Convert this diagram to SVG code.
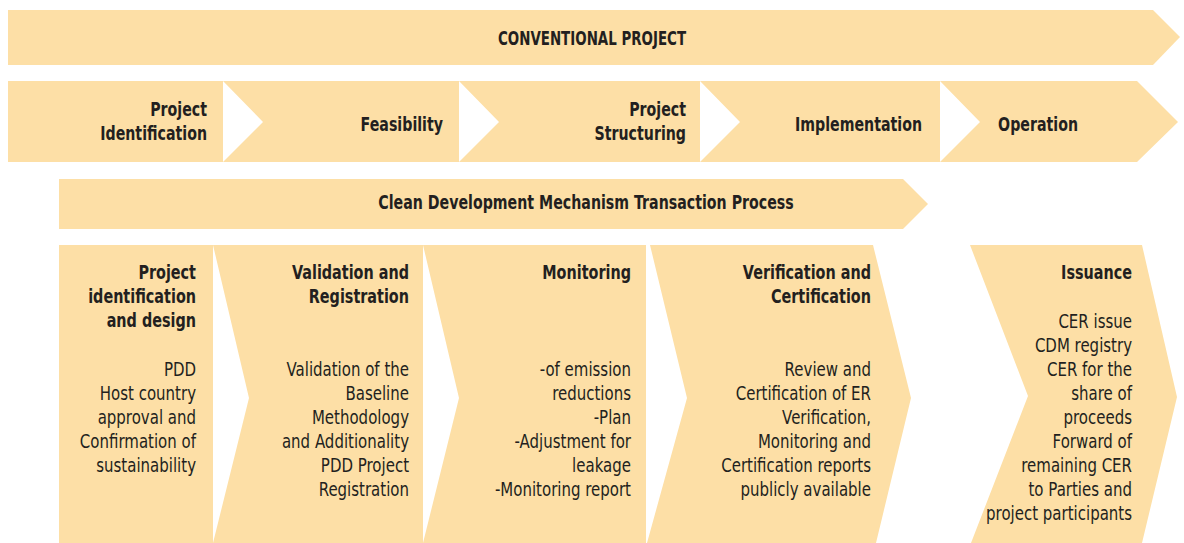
<svg xmlns="http://www.w3.org/2000/svg" width="1184" height="543" viewBox="0 0 1184 543">
<style>
.f{fill:#FDDFA6;}
text{font-family:"DejaVu Sans","Liberation Sans",sans-serif;fill:#231F20;font-size:20px;}
.b{font-weight:bold;}
.r{text-anchor:end;}
.c{text-anchor:middle;}
</style>
<rect width="1184" height="543" fill="#FFFFFF"/>
<g id="conventional-project">
<polygon class="f" points="8,10 1153,10 1180,37 1153,65 8,65"/>
<g transform="translate(592,0) scale(0.67,1)"><text class="b c" x="0" y="45">CONVENTIONAL PROJECT</text></g>
</g>
<g id="project-identification">
<rect class="f" x="8" y="81" width="215" height="81"/>
<g transform="translate(207,0) scale(0.71,1)">
<text class="b r" x="0" y="116">Project</text>
<text class="b r" x="0" y="140">Identification</text>
</g>
</g>
<g id="feasibility">
<polygon class="f" points="223,81 459,81 459,162 223,162 263,122"/>
<g transform="translate(443,0) scale(0.71,1)"><text class="b r" x="0" y="131">Feasibility</text></g>
</g>
<g id="project-structuring">
<polygon class="f" points="459,81 700,81 700,162 459,162 499,122"/>
<g transform="translate(686,0) scale(0.71,1)">
<text class="b r" x="0" y="116">Project</text>
<text class="b r" x="0" y="140">Structuring</text>
</g>
</g>
<g id="implementation">
<polygon class="f" points="700,81 940,81 940,162 700,162 740,122"/>
<g transform="translate(922,0) scale(0.71,1)"><text class="b r" x="0" y="131">Implementation</text></g>
</g>
<g id="operation">
<polygon class="f" points="940,81 1137,81 1178,122 1137,162 940,162 980,122"/>
<g transform="translate(1078,0) scale(0.71,1)"><text class="b r" x="0" y="131">Operation</text></g>
</g>
<g id="cdm-process">
<polygon class="f" points="59,179 903,179 928,204 903,229 59,229"/>
<g transform="translate(586,0) scale(0.71,1)"><text class="b c" x="0" y="209">Clean Development Mechanism Transaction Process</text></g>
</g>
<g id="identification-design">
<rect class="f" x="59" y="245" width="154" height="298"/>
<g transform="translate(196,0) scale(0.72,1)">
<text class="b r" x="0" y="279">Project</text>
<text class="b r" x="0" y="303">identification</text>
<text class="b r" x="0" y="327">and design</text>
</g>
<g transform="translate(196,0) scale(0.75,1)">
<text class="r" x="0" y="376">PDD</text>
<text class="r" x="0" y="400">Host country</text>
<text class="r" x="0" y="424">approval and</text>
<text class="r" x="0" y="448">Confirmation of</text>
<text class="r" x="0" y="472">sustainability</text>
</g>
</g>
<g id="validation-registration">
<polygon class="f" points="213,245 423,245 423,543 213,543 249,398"/>
<g transform="translate(409,0) scale(0.72,1)">
<text class="b r" x="0" y="279">Validation and</text>
<text class="b r" x="0" y="303">Registration</text>
</g>
<g transform="translate(409,0) scale(0.75,1)">
<text class="r" x="0" y="376">Validation of the</text>
<text class="r" x="0" y="400">Baseline</text>
<text class="r" x="0" y="424">Methodology</text>
<text class="r" x="0" y="448">and Additionality</text>
<text class="r" x="0" y="472">PDD Project</text>
<text class="r" x="0" y="496">Registration</text>
</g>
</g>
<g id="monitoring">
<polygon class="f" points="423,245 646,245 646,543 423,543 459,398"/>
<g transform="translate(631,0) scale(0.72,1)">
<text class="b r" x="0" y="279">Monitoring</text>
</g>
<g transform="translate(631,0) scale(0.75,1)">
<text class="r" x="0" y="376">-of emission</text>
<text class="r" x="0" y="400">reductions</text>
<text class="r" x="0" y="424">-Plan</text>
<text class="r" x="0" y="448">-Adjustment for</text>
<text class="r" x="0" y="472">leakage</text>
<text class="r" x="0" y="496">-Monitoring report</text>
</g>
</g>
<g id="verification-certification">
<polygon class="f" points="650,245 873,245 911,398 876,543 647,543 687,398"/>
<g transform="translate(871,0) scale(0.72,1)">
<text class="b r" x="0" y="279">Verification and</text>
<text class="b r" x="0" y="303">Certification</text>
</g>
<g transform="translate(871,0) scale(0.75,1)">
<text class="r" x="0" y="376">Review and</text>
<text class="r" x="0" y="400">Certification of ER</text>
<text class="r" x="0" y="424">Verification,</text>
<text class="r" x="0" y="448">Monitoring and</text>
<text class="r" x="0" y="472">Certification reports</text>
<text class="r" x="0" y="496">publicly available</text>
</g>
</g>
<g id="issuance">
<polygon class="f" points="970,245 1142,245 1177,397 1142,543 971,543 1028,396"/>
<g transform="translate(1132,0) scale(0.72,1)">
<text class="b r" x="0" y="279">Issuance</text>
</g>
<g transform="translate(1132,0) scale(0.75,1)">
<text class="r" x="0" y="328">CER issue</text>
<text class="r" x="0" y="352">CDM registry</text>
<text class="r" x="0" y="376">CER for the</text>
<text class="r" x="0" y="400">share of</text>
<text class="r" x="0" y="424">proceeds</text>
<text class="r" x="0" y="448">Forward of</text>
<text class="r" x="0" y="472">remaining CER</text>
<text class="r" x="0" y="496">to Parties and</text>
<text class="r" x="0" y="520">project participants</text>
</g>
</g>
<g id="connectors"></g>
</svg>
